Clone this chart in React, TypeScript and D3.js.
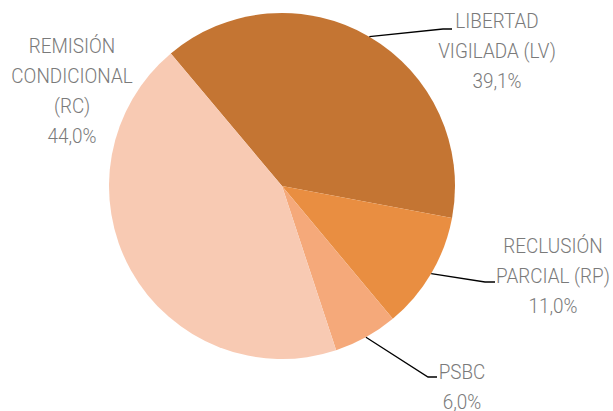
import React from 'react';
import * as d3 from 'd3';

// share of each measure (%)
const categories = ['LIBERTAD VIGILADA (LV)', 'RECLUSIÓN PARCIAL (RP)', 'PSBC', 'REMISIÓN CONDICIONAL (RC)'];
const values = [39.1, 11.0, 6.0, 44.0];
const colors = ['#C47533', '#E98E41', '#F5A97A', '#F8CAB3'];

// label text lines per slice (last line is the value)
const labelLines = [
  ['LIBERTAD', 'VIGILADA (LV)'],
  ['RECLUSIÓN', 'PARCIAL (RP)'],
  ['PSBC'],
  ['REMISIÓN', 'CONDICIONAL', '(RC)'],
];

const width = 613;
const height = 411;
const cx = 282;
const cy = 186;
const radius = 173;
const lineH = 30;

// label layout: text centre x, first baseline y, leader elbow (null = no leader)
const labelLayout = [
  { x: 497, y: 28, elbow: [443, 29], end: 452 },
  { x: 553, y: 253, elbow: [485, 282], end: 495 },
  { x: 462, y: 379, elbow: [428, 377], end: 437 },
  { x: 72, y: 53, elbow: null, end: 0 },
];

const fmt = (v: number) => d3.format('.1f')(v).replace('.', ',') + '%';

export default function App() {
  const data = categories.map((c, i) => ({ name: c, value: values[i], i }));

  const pie = d3.pie<any>()
    .sort(null)
    .value(d => d.value)
    .startAngle(-40 * Math.PI / 180)
    .endAngle(-40 * Math.PI / 180 + 2 * Math.PI);
  const arcs = pie(data);

  const arc = d3.arc<any>().innerRadius(0).outerRadius(radius);
  const edge = d3.arc<any>().innerRadius(radius).outerRadius(radius);

  return (
    <svg width={width} height={height} style={{ position: 'absolute', left: 0, top: 0 }}
      fontFamily="Roboto" fontWeight={300}>
      <g transform={`translate(${cx},${cy})`}>
        {arcs.map(a => (
          <path key={a.data.name} d={arc(a) as string} fill={colors[a.data.i]} />
        ))}
      </g>
      {arcs.map(a => {
        const lay = labelLayout[a.data.i];
        if (!lay.elbow) return null;
        const [px, py] = edge.centroid(a);
        const pts: [number, number][] = [[cx + px, cy + py], lay.elbow as [number, number], [lay.end, lay.elbow[1]]];
        return (
          <path key={'l' + a.data.name} d={d3.line()(pts) as string} fill="none" stroke="#000" strokeWidth={1.3} />
        );
      })}
      {arcs.map(a => {
        const lay = labelLayout[a.data.i];
        const lines = [...labelLines[a.data.i], fmt(a.data.value)];
        return (
          <text key={'t' + a.data.name} textAnchor="middle" fill="#7A7A7A" fontSize={21}
            transform={`translate(${lay.x},0) scale(0.9,1)`}>
            {lines.map((t, k) => (
              <tspan key={k} x={0} y={lay.y + k * lineH}>{t}</tspan>
            ))}
          </text>
        );
      })}
    </svg>
  );
}
